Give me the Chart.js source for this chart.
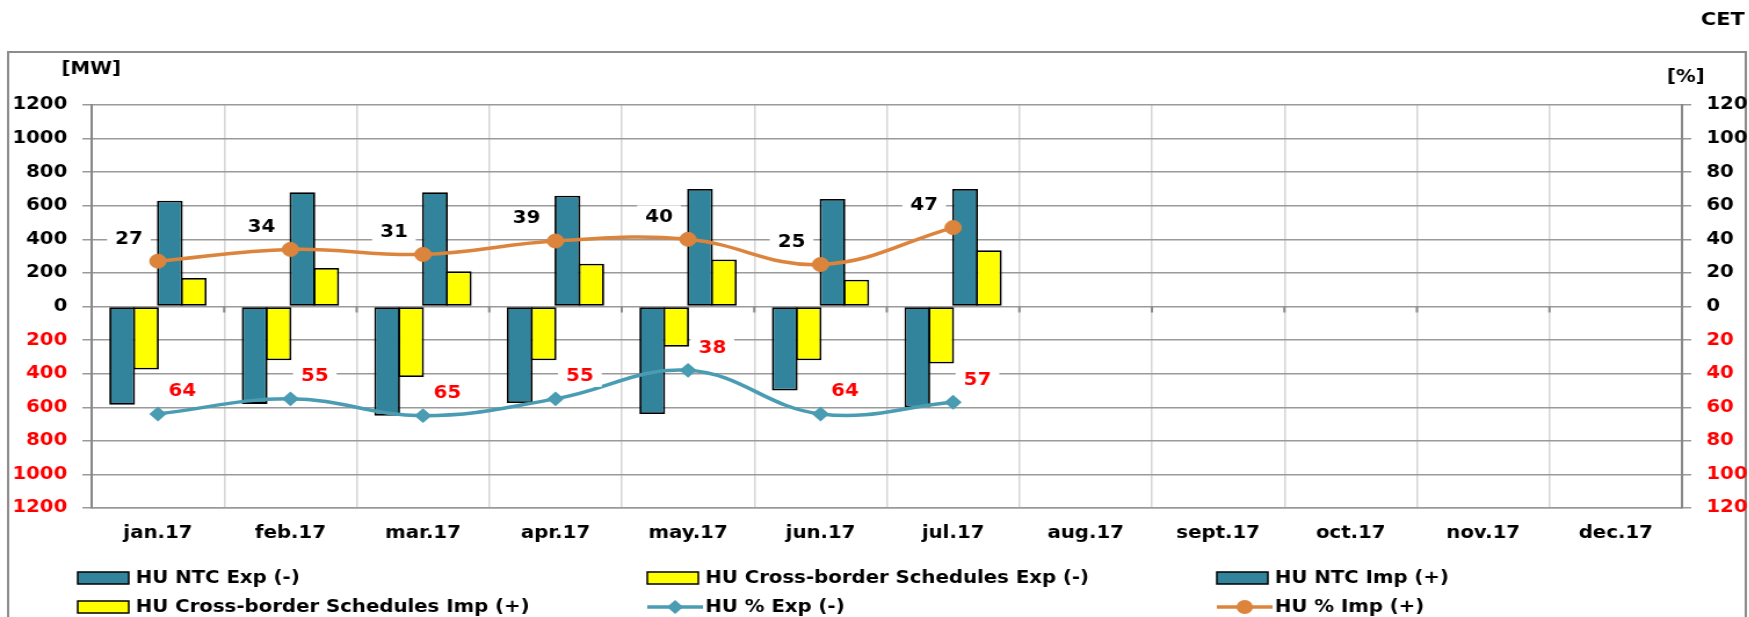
<!DOCTYPE html>
<html>
<head>
<meta charset="utf-8">
<script src="https://cdn.jsdelivr.net/npm/chart.js@4/dist/chart.umd.min.js"></script>
<style>
  html, body { margin: 0; padding: 0; background: #fff; overflow: hidden; }
  #wrap {
    position: absolute; left: 0; top: 0;
    width: 1508px; height: 617px;
    transform: scaleX(1.16); transform-origin: 0 0;
  }
</style>
</head>
<body>
<div id="wrap"><canvas id="chart" width="1508" height="617"></canvas></div>
<script>
const months = ["jan.17", "feb.17", "mar.17", "apr.17", "may.17", "jun.17",
    "jul.17", "aug.17", "sept.17", "oct.17", "nov.17", "dec.17"];

// MW, export values are drawn below zero
const ntcExp = [585, 580, 650, 575, 640, 500, 600];
const cbExp = [375, 320, 420, 320, 240, 320, 340];
const ntcImp = [630, 680, 680, 660, 700, 640, 700];
const cbImp = [170, 230, 210, 255, 280, 160, 335];

// usage in %
const pctExp = [64, 55, 65, 55, 38, 64, 57];
const pctImp = [27, 34, 31, 39, 40, 25, 47];

const FONT = '"DejaVu Sans", Verdana, sans-serif';
const TEAL = "#31849b",
    YELLOW = "#ffff00",
    LINE_EXP = "#4a9cb3",
    LINE_IMP = "#dc843c",
    RED = "#ff0000";

const neg = arr => arr.map(v => -v);

// legend slots: [column, row]
const legendCols = [67, 558, 1049],
    legendRows = [578, 607];
const legendSlots = [[0, 0], [1, 0], [2, 0], [0, 1], [1, 1], [2, 1]];

const frameAndTitles = {
    id: "frameAndTitles",
    beforeDraw(chart) {
        const { ctx } = chart;
        ctx.save();
        ctx.fillStyle = "#fff";
        ctx.fillRect(0, 0, chart.width, chart.height);
        ctx.strokeStyle = "#8c8c8c";
        ctx.lineWidth = 2;
        ctx.beginPath();
        ctx.moveTo(7, 617);
        ctx.lineTo(7, 52);
        ctx.lineTo(1505, 52);
        ctx.lineTo(1505, 617);
        ctx.stroke();

        ctx.fillStyle = "#000";
        ctx.textBaseline = "middle";
        ctx.font = `bold 17px ${FONT}`;
        ctx.textAlign = "left";
        ctx.fillText("[MW]", 53, 70);
        ctx.fillText("[%]", 1437, 78);
        ctx.font = `bold 18px ${FONT}`;
        ctx.textAlign = "right";
        ctx.fillText("CET", 1504, 20);
        ctx.restore();
    },
    beforeDatasetsDraw(chart) {
        // small marks where the category borders cross the zero line
        const { ctx, scales: { x, y } } = chart;
        const y0 = y.getPixelForValue(0);
        ctx.save();
        ctx.strokeStyle = "#8a8a8a";
        ctx.lineWidth = 2;
        ctx.beginPath();
        for (let i = 0; i <= months.length; i++) {
            const px = x.left + (x.right - x.left) * i / months.length;
            ctx.moveTo(px, y0);
            ctx.lineTo(px, y0 + 6);
        }
        ctx.stroke();
        ctx.restore();
    },
    afterDraw(chart) {
        const { ctx } = chart;
        ctx.save();
        ctx.font = `bold 17px ${FONT}`;
        ctx.textBaseline = "middle";
        ctx.textAlign = "left";
        chart.data.datasets.forEach((ds, i) => {
            const [c, r] = legendSlots[i];
            const x = legendCols[c], y = legendRows[r];
            if (ds.type === "bar") {
                ctx.fillStyle = ds.backgroundColor;
                ctx.fillRect(x, y - 6, 44, 12);
                ctx.strokeStyle = "#000";
                ctx.lineWidth = 1.5;
                ctx.strokeRect(x, y - 6, 44, 12);
            } else {
                ctx.strokeStyle = ds.borderColor;
                ctx.lineWidth = 3.5;
                ctx.beginPath();
                ctx.moveTo(x, y);
                ctx.lineTo(x + 48, y);
                ctx.stroke();
                ctx.fillStyle = ds.borderColor;
                ctx.beginPath();
                if (ds.pointStyle === "rectRot") {
                    ctx.moveTo(x + 24, y - 7);
                    ctx.lineTo(x + 31, y);
                    ctx.lineTo(x + 24, y + 7);
                    ctx.lineTo(x + 17, y);
                    ctx.closePath();
                } else {
                    ctx.arc(x + 24, y, 7, 0, Math.PI * 2);
                }
                ctx.fill();
            }
            ctx.fillStyle = "#000";
            ctx.fillText(ds.label, x + 50, y + 1);
        });
        ctx.restore();
    }
};

const valueLabels = {
    id: "valueLabels",
    afterDatasetsDraw(chart) {
        const { ctx } = chart;
        ctx.save();
        ctx.font = `bold 17px ${FONT}`;
        ctx.textAlign = "center";
        ctx.textBaseline = "middle";
        chart.data.datasets.forEach((ds, i) => {
            if (!ds.pctLabels) return;
            chart.getDatasetMeta(i).data.forEach((pt, j) => {
                const v = ds.pctLabels[j];
                if (v == null) return;
                const x = pt.x + ds.labelDx,
                    y = pt.y + ds.labelDy;
                const w = ctx.measureText(String(v)).width + 14;
                ctx.fillStyle = "#fff";
                ctx.fillRect(x - w / 2, y - 11, w, 22);
                ctx.fillStyle = ds.labelColor;
                ctx.fillText(String(v), x, y + 1);
            });
        });
        ctx.restore();
    }
};

const barSet = (label, data, color) => ({
    type: "bar",
    label,
    data,
    yAxisID: "y",
    order: 2,
    backgroundColor: color,
    borderColor: "#000",
    borderWidth: 1.8,
    borderSkipped: false,
    // slightly over 1 so neighbouring bars share their outline
    categoryPercentage: 0.72,
    barPercentage: 1.08,
});

new Chart(document.getElementById("chart"), {
    data: {
        labels: months,
        datasets: [
            barSet("HU NTC Exp (-)", neg(ntcExp), TEAL),
            barSet("HU Cross-border Schedules Exp (-)", neg(cbExp), YELLOW),
            barSet("HU NTC Imp (+)", ntcImp, TEAL),
            barSet("HU Cross-border Schedules Imp (+)", cbImp, YELLOW),
            {
                type: "line",
                label: "HU % Exp (-)",
                data: neg(pctExp),
                pctLabels: pctExp,
                labelColor: RED,
                labelDx: 21,
                labelDy: -23,
                yAxisID: "y1",
                order: 1,
                borderColor: LINE_EXP,
                backgroundColor: LINE_EXP,
                borderWidth: 3.5,
                tension: 0.4,
                pointStyle: "rectRot",
                pointRadius: 6,
                pointBorderWidth: 2,
            },
            {
                type: "line",
                label: "HU % Imp (+)",
                data: pctImp,
                pctLabels: pctImp,
                labelColor: "#000",
                labelDx: -25,
                labelDy: -23,
                yAxisID: "y1",
                order: 1,
                borderColor: LINE_IMP,
                backgroundColor: LINE_IMP,
                borderWidth: 3.5,
                tension: 0.4,
                pointStyle: "circle",
                pointRadius: 7,
                pointBorderWidth: 1,
            },
        ]
    },
    options: {
        responsive: false,
        animation: false,
        layout: {
            padding: { top: 105, bottom: 59, left: 0, right: 0 }
        },
        plugins: {
            legend: { display: false },
            tooltip: { enabled: false },
        },
        scales: {
            x: {
                offset: true,
                grid: {
                    offset: true,
                    color: "#d6d6d6",
                    lineWidth: 1.5,
                    drawTicks: false,
                },
                border: { color: "#999", width: 1.5 },
                ticks: {
                    padding: 15,
                    color: "#000",
                    font: { family: FONT, size: 17, weight: "bold" },
                },
                afterFit: s => { s.height = 50; },
            },
            y: {
                position: "left",
                min: -1200,
                max: 1200,
                grid: {
                    color: "#9a9a9a",
                    lineWidth: 1.5,
                    tickLength: 8,
                },
                border: { color: "#888", width: 2 },
                ticks: {
                    stepSize: 200,
                    padding: 13,
                    callback: v => Math.abs(v),
                    color: c => c.tick.value < 0 ? RED : "#000",
                    font: { family: FONT, size: 17, weight: "bold" },
                },
                afterFit: s => { s.width = 79; },
            },
            y1: {
                position: "right",
                min: -120,
                max: 120,
                grid: {
                    drawOnChartArea: false,
                    color: "#9a9a9a",
                    lineWidth: 1.5,
                    tickLength: 8,
                },
                border: { color: "#888", width: 2 },
                ticks: {
                    stepSize: 20,
                    padding: 13,
                    callback: v => Math.abs(v),
                    color: c => c.tick.value < 0 ? RED : "#000",
                    font: { family: FONT, size: 17, weight: "bold" },
                },
                afterFit: s => { s.width = 58; },
            },
        }
    },
    plugins: [frameAndTitles, valueLabels]
});
</script>
</body>
</html>
